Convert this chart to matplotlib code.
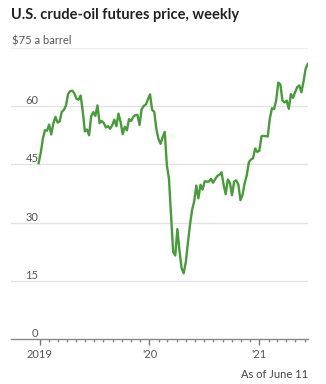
import matplotlib
matplotlib.use('Agg')
import matplotlib.pyplot as plt
import matplotlib.dates as mdates
import numpy as np
import pandas as pd

# weekly front-month settlement, $ a barrel
prices_2018 = [45.33]
prices_2019 = [47.96, 51.59, 53.80, 53.69, 55.26, 52.72, 55.59, 57.26, 55.80, 56.07,
               58.52, 59.04, 60.14, 63.08, 63.89, 64.00, 63.30, 61.94, 61.66, 62.76,
               58.63, 53.50, 54.00, 52.51, 57.43, 58.47, 57.51, 60.21, 55.63, 56.20,
               55.66, 54.50, 54.87, 54.17, 55.10, 56.52, 54.85, 58.09, 55.91, 52.81,
               54.70, 53.78, 56.66, 56.20, 57.24, 57.72, 57.77, 55.17, 59.20, 60.07,
               60.44, 61.72]
prices_2020 = [63.05, 59.04, 58.54, 54.19, 51.56, 50.32, 52.05, 53.38, 44.76, 41.28,
               31.73, 22.43, 21.51, 28.34, 22.76, 18.27, 16.94, 19.78, 24.74, 29.43,
               33.25, 35.49, 39.55, 36.26, 39.75, 38.49, 40.65, 40.55, 40.59, 41.29,
               40.27, 41.22, 42.01, 42.34, 42.97, 39.77, 37.33, 41.11, 40.25, 37.05,
               40.60, 40.88, 39.85, 35.79, 37.14, 40.13, 42.15, 45.53, 46.26, 46.57,
               49.10, 48.23, 48.52]
prices_2021 = [52.24, 52.36, 52.27, 52.20, 56.85, 59.47, 59.24, 61.50, 66.09, 65.61,
               61.42, 60.97, 61.45, 59.32, 63.13, 62.14, 63.58, 64.90, 65.37, 63.58,
               66.32, 69.62, 70.91]

prices = prices_2018 + prices_2019 + prices_2020 + prices_2021
weeks = pd.date_range('2018-12-28', periods=len(prices), freq='W-FRI')

y_ticks = [0, 15, 30, 45, 60, 75]
x_tick_labels = ['2019', "'20", "'21"]
x_tick_dates = ['2019-01-01', '2020-01-01', '2021-01-01']

plt.rcParams['font.family'] = ['Lato', 'DejaVu Sans']

W, H = 326, 384
fig = plt.figure(figsize=(W / 100, H / 100), dpi=100)
left, right, top, bottom = 11, 308, 48, 339
ax = fig.add_axes([left / W, 1 - bottom / H, (right - left) / W, (bottom - top) / H])

ax.plot(weeks, prices, color='#469c38', lw=1.7, solid_joinstyle='round', zorder=3)

ax.set_ylim(0, 75)
ax.set_xlim(pd.Timestamp('2018-09-27'), pd.Timestamp('2021-06-12'))

for v in y_ticks[1:]:
    ax.axhline(v, color='#e2e2e2' if v < 75 else '#eeeeee', lw=1, zorder=1)

# value labels sit above the gridlines, right-aligned
for v in y_ticks[:-1]:
    ax.text(30 / W, v, str(v), transform=ax.get_yaxis_transform(),
            ha='right', va='bottom', fontsize=8, color='#555555')
fig.text(12 / W, 1 - 46 / H, '$75 a barrel', ha='left', va='bottom',
         fontsize=8, color='#555555')

for s in ['top', 'right', 'left']:
    ax.spines[s].set_visible(False)
ax.spines['bottom'].set_color('#888888')
ax.spines['bottom'].set_linewidth(1)
ax.set_yticks([])

ax.set_xticks(pd.to_datetime(x_tick_dates))
ax.set_xticklabels(x_tick_labels)
ax.set_xticks([d for d in pd.date_range('2019-02-01', '2021-06-01', freq='MS')
               if d.month != 1], minor=True)
ax.tick_params(axis='x', which='major', length=4, width=1, color='#777777',
               labelsize=8, labelcolor='#555555', pad=3)
ax.tick_params(axis='x', which='minor', length=2, width=1, color='#888888')

fig.text(11 / W, 1 - 8 / H, 'U.S. crude-oil futures price, weekly', ha='left',
         va='top', fontsize=10.5, fontweight='bold', color='#222222')
fig.text(308 / W, 4 / H, 'As of June 11', ha='right', va='bottom',
         fontsize=8, color='#444444')

fig.savefig('out.png', dpi=100, facecolor='white')
